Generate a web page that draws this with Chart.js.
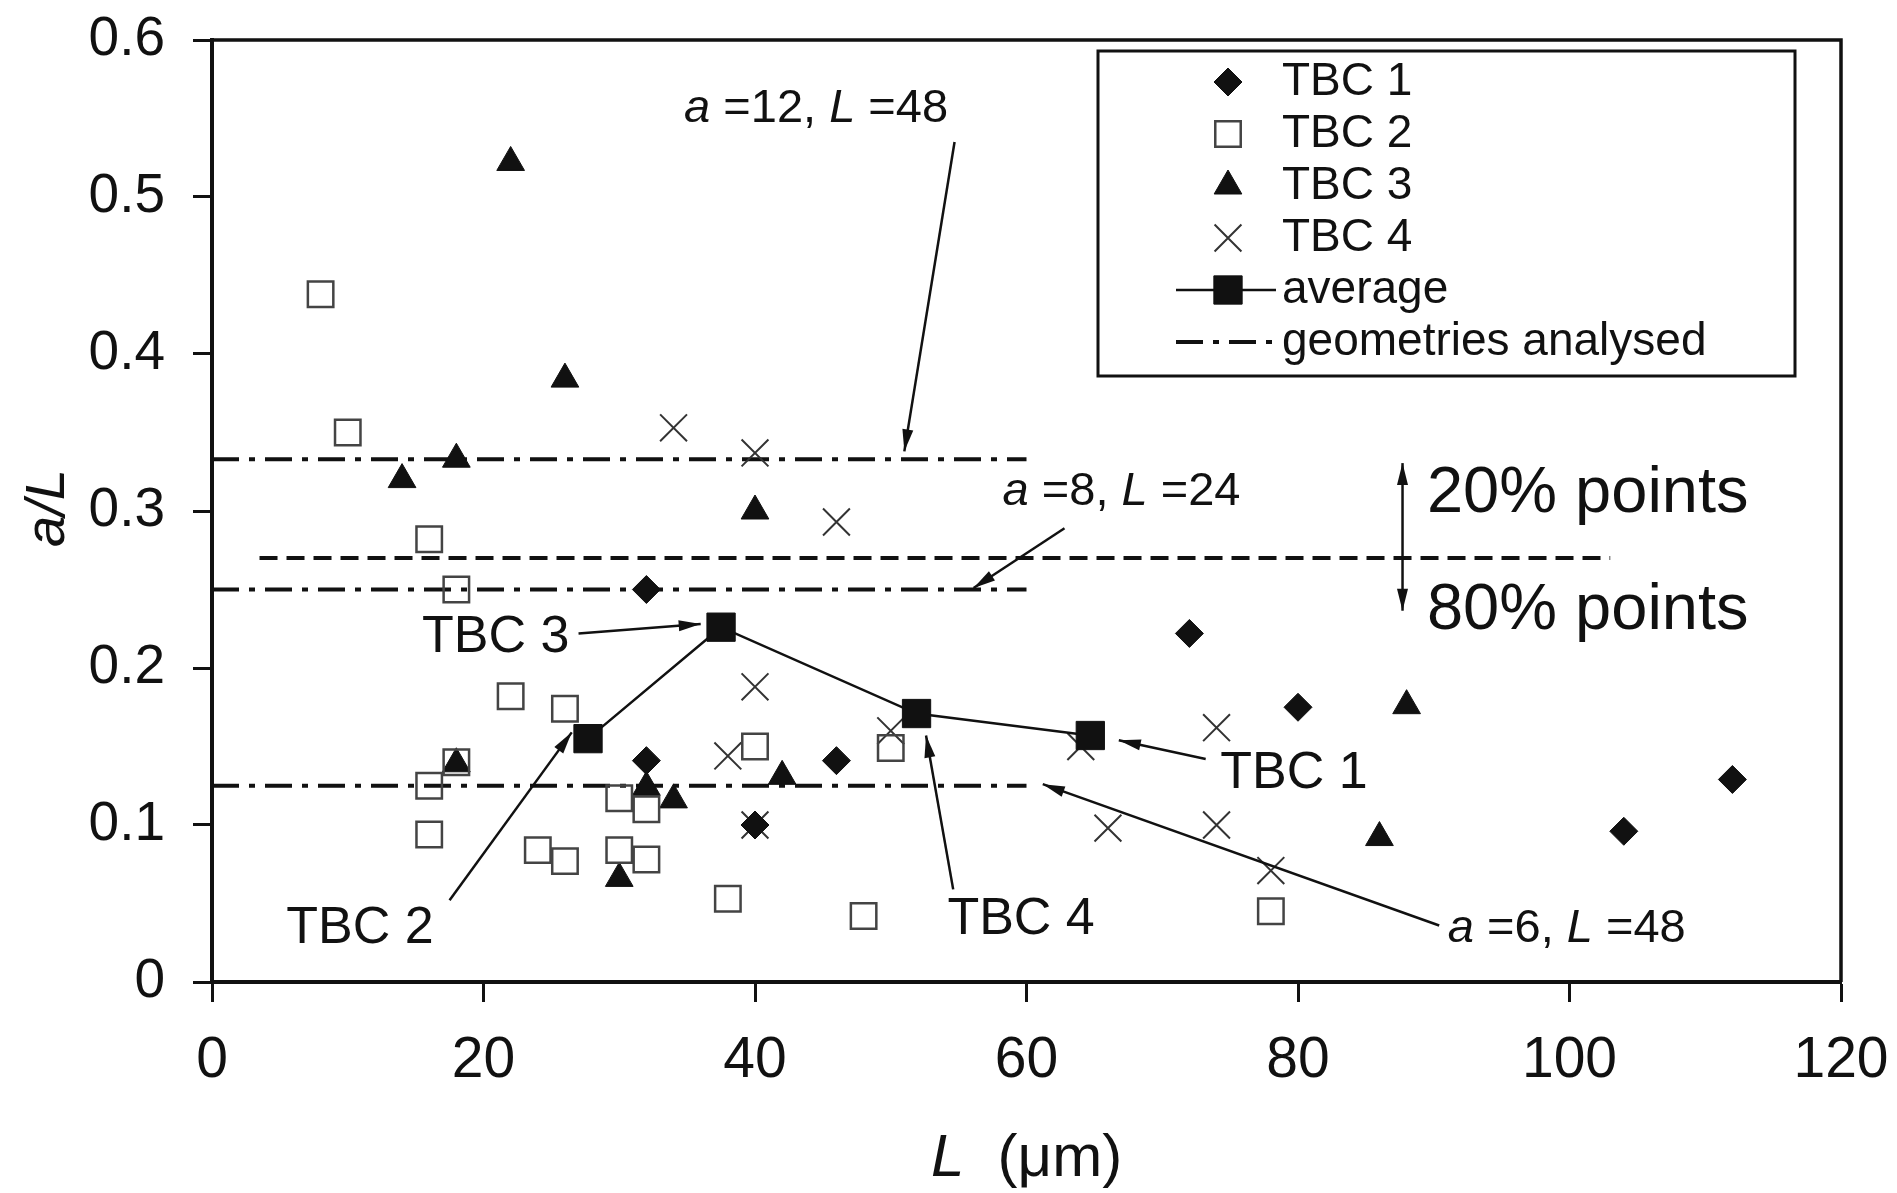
<!DOCTYPE html>
<html>
<head>
<meta charset="utf-8">
<script src="https://cdn.jsdelivr.net/npm/chart.js@4.4.0/dist/chart.umd.min.js"></script>
<style>
  html, body { margin: 0; padding: 0; background: #fff; }
  #wrap { width: 1897px; height: 1193px; position: relative; }
</style>
</head>
<body>
<div id="wrap"><canvas id="crackChart"></canvas></div>
<script>
const FONT = "'Liberation Sans', Arial, Helvetica, sans-serif";
const INK = '#111';

// --- values: L (um) vs a/L ---
const tbc1L = [32, 32, 40, 46, 72, 80, 104, 112];
const tbc1Ratio = [0.250, 0.141, 0.100, 0.141, 0.222, 0.175, 0.096, 0.129];

const tbc2L = [8, 10, 16, 18, 22, 26, 16, 16, 18, 24, 26, 30, 32, 30, 32, 38, 40, 48, 50, 78];
const tbc2Ratio = [0.438, 0.350, 0.282, 0.250, 0.182, 0.174, 0.125, 0.094, 0.140, 0.084,
                   0.077, 0.117, 0.110, 0.084, 0.078, 0.053, 0.150, 0.042, 0.149, 0.045];

const tbc3L = [22, 26, 14, 18, 40, 18, 32, 34, 30, 42, 88, 86];
const tbc3Ratio = [0.522, 0.384, 0.320, 0.333, 0.300, 0.139, 0.124, 0.116, 0.066, 0.131, 0.176, 0.092];

const tbc4L = [34, 40, 46, 40, 38, 40, 50, 64, 66, 74, 74, 78];
const tbc4Ratio = [0.353, 0.337, 0.293, 0.188, 0.144, 0.100, 0.160, 0.150, 0.098, 0.162, 0.100, 0.071];

const averageL = [27.7, 37.5, 51.9, 64.7];
const averageRatio = [0.155, 0.226, 0.171, 0.157];

// analysed geometries (a/L) and the 20% / 80% split line
const geometryRatio = [0.333, 0.25, 0.125];
const geometryLRange = [0, 60];
const splitRatio = 0.27;
const splitLRange = [3.5, 103];

const xTickValues = [0, 20, 40, 60, 80, 100, 120];
const yTickValues = [0, 0.1, 0.2, 0.3, 0.4, 0.5, 0.6];

const toPoints = (xs, ys) => xs.map((x, i) => ({ x: x, y: ys[i] }));

// text notes and arrows, placed in data units
const notes = [
  { parts: [['a', true], [' =12, ', false], ['L', true], [' =48', false]], at: [44.5, 0.556], size: 47 },
  { parts: [['a', true], [' =8, ', false], ['L', true], [' =24', false]], at: [67.0, 0.312], size: 47 },
  { parts: [['TBC 3', false]], at: [20.9, 0.2196], size: 52 },
  { parts: [['TBC 2', false]], at: [10.9, 0.034], size: 52 },
  { parts: [['TBC 4', false]], at: [59.6, 0.040], size: 52 },
  { parts: [['TBC 1', false]], at: [79.7, 0.1325], size: 52 },
  { parts: [['a', true], [' =6, ', false], ['L', true], [' =48', false]], at: [99.8, 0.034], size: 47 },
  { parts: [['20% points', false]], at: [89.5, 0.311], size: 65, align: 'left' },
  { parts: [['80% points', false]], at: [89.5, 0.2365], size: 65, align: 'left' }
];
const arrows = [
  { from: [54.7, 0.535], to: [51.0, 0.338] },
  { from: [62.8, 0.289], to: [56.1, 0.251] },
  { from: [27.0, 0.222], to: [36.0, 0.228] },
  { from: [17.5, 0.052], to: [26.5, 0.159] },
  { from: [54.6, 0.059], to: [52.6, 0.157] },
  { from: [73.2, 0.142], to: [66.8, 0.154] },
  { from: [90.4, 0.036], to: [61.2, 0.126] },
  { from: [87.7, 0.2365], to: [87.7, 0.3305], both: true }
];

const scatterSet = (label, pts, style, radius, fill, stroke, width) => ({
  label: label,
  data: pts,
  showLine: false,
  pointStyle: style,
  pointRadius: radius,
  pointHoverRadius: radius,
  backgroundColor: fill,
  borderColor: stroke,
  borderWidth: width,
  inLegend: true,
  order: 1
});

const refLine = (label, y, range, dash, inLegend) => ({
  label: label,
  data: [{ x: range[0], y: y }, { x: range[1], y: y }],
  showLine: true,
  borderColor: INK,
  borderWidth: 4,
  borderDash: dash,
  pointRadius: 0,
  fill: false,
  inLegend: inLegend,
  order: 3
});

const DASH_DOT = [27, 10, 6, 10];

const datasets = [
  scatterSet('TBC 1', toPoints(tbc1L, tbc1Ratio), 'rectRot', 14, INK, INK, 1),
  scatterSet('TBC 2', toPoints(tbc2L, tbc2Ratio), 'rect', 18, 'rgba(0,0,0,0)', '#444', 2.5),
  scatterSet('TBC 3', toPoints(tbc3L, tbc3Ratio), 'triangle', 16, INK, INK, 1),
  scatterSet('TBC 4', toPoints(tbc4L, tbc4Ratio), 'crossRot', 19, 'rgba(0,0,0,0)', '#333', 2),
  {
    label: 'average',
    data: toPoints(averageL, averageRatio),
    showLine: true,
    borderColor: INK,
    borderWidth: 2.5,
    pointStyle: 'rect',
    pointRadius: 20,
    pointBackgroundColor: INK,
    pointBorderColor: INK,
    pointBorderWidth: 1,
    inLegend: true,
    order: 0
  },
  refLine('geometries analysed', geometryRatio[0], geometryLRange, DASH_DOT, true),
  refLine('geometry 2', geometryRatio[1], geometryLRange, DASH_DOT, false),
  refLine('geometry 3', geometryRatio[2], geometryLRange, DASH_DOT, false),
  refLine('20/80 split', splitRatio, splitLRange, [18, 9], false)
];

function drawRich(ctx, parts, x, y, size, align) {
  const widths = parts.map(p => {
    ctx.font = (p[1] ? 'italic ' : '') + size + 'px ' + FONT;
    return ctx.measureText(p[0]).width;
  });
  const total = widths.reduce((a, b) => a + b, 0);
  let cx = align === 'left' ? x : (align === 'right' ? x - total : x - total / 2);
  ctx.textAlign = 'left';
  ctx.textBaseline = 'middle';
  parts.forEach((p, i) => {
    ctx.font = (p[1] ? 'italic ' : '') + size + 'px ' + FONT;
    ctx.fillText(p[0], cx, y);
    cx += widths[i];
  });
}

function arrowHead(ctx, x1, y1, x2, y2) {
  const ang = Math.atan2(y2 - y1, x2 - x1);
  const len = 22, half = 5.5;
  ctx.beginPath();
  ctx.moveTo(x2, y2);
  ctx.lineTo(x2 - len * Math.cos(ang) + half * Math.sin(ang), y2 - len * Math.sin(ang) - half * Math.cos(ang));
  ctx.lineTo(x2 - len * Math.cos(ang) - half * Math.sin(ang), y2 - len * Math.sin(ang) + half * Math.cos(ang));
  ctx.closePath();
  ctx.fill();
}

const figurePlugin = {
  id: 'figureExtras',
  afterDraw(chart) {
    const ctx = chart.ctx;
    const xs = chart.scales.x, ys = chart.scales.y;
    const area = chart.chartArea;
    ctx.save();
    ctx.strokeStyle = INK;
    ctx.fillStyle = INK;

    // frame top and right
    ctx.lineWidth = 3.5;
    ctx.setLineDash([]);
    ctx.beginPath();
    ctx.moveTo(area.left, area.top);
    ctx.lineTo(area.right, area.top);
    ctx.lineTo(area.right, area.bottom);
    ctx.stroke();

    // arrows
    ctx.lineWidth = 2.5;
    arrows.forEach(a => {
      const x1 = xs.getPixelForValue(a.from[0]), y1 = ys.getPixelForValue(a.from[1]);
      const x2 = xs.getPixelForValue(a.to[0]), y2 = ys.getPixelForValue(a.to[1]);
      ctx.beginPath();
      ctx.moveTo(x1, y1);
      ctx.lineTo(x2, y2);
      ctx.stroke();
      arrowHead(ctx, x1, y1, x2, y2);
      if (a.both) arrowHead(ctx, x2, y2, x1, y1);
    });

    // notes
    notes.forEach(n => {
      drawRich(ctx, n.parts, xs.getPixelForValue(n.at[0]), ys.getPixelForValue(n.at[1]), n.size, n.align || 'center');
    });

    // axis titles
    drawRich(ctx, [['L', true], ['  (\u03bcm)', false]], (area.left + area.right) / 2, 1159, 60, 'center');
    ctx.save();
    ctx.translate(48, ys.getPixelForValue(0.3) - 3);
    ctx.rotate(-Math.PI / 2);
    drawRich(ctx, [['a/L', true]], 0, 0, 56, 'center');
    ctx.restore();

    // legend box
    const boxL = area.right - 743, boxT = area.top + 11;
    ctx.lineWidth = 3;
    ctx.strokeRect(boxL, boxT, 697, 325);
    const rows = chart.data.datasets.filter(d => d.inLegend);
    rows.forEach((d, i) => {
      const ry = boxT + 31 + i * 52;
      const mx = boxL + 130;
      ctx.save();
      if (d.showLine) {
        ctx.lineWidth = d.borderWidth;
        ctx.setLineDash(d.borderDash || []);
        ctx.beginPath();
        ctx.moveTo(boxL + 78, ry);
        ctx.lineTo(boxL + 178, ry);
        ctx.stroke();
        ctx.setLineDash([]);
      }
      if (d.pointRadius > 0) {
        ctx.fillStyle = d.pointBackgroundColor || d.backgroundColor;
        ctx.strokeStyle = d.pointBorderColor || d.borderColor;
        const bw = d.pointBorderWidth !== undefined ? d.pointBorderWidth : d.borderWidth;
        ctx.lineWidth = bw;
        Chart.helpers.drawPoint(ctx, { pointStyle: d.pointStyle, radius: d.pointRadius, rotation: 0, borderWidth: bw }, mx, ry);
      }
      ctx.restore();
      ctx.fillStyle = INK;
      drawRich(ctx, [[d.label, false]], boxL + 184, ry, 46, 'left');
    });
    ctx.restore();
  }
};

new Chart(document.getElementById('crackChart').getContext('2d'), {
  type: 'scatter',
  data: { datasets: datasets },
  options: {
    responsive: true,
    maintainAspectRatio: false,
    animation: false,
    events: [],
    layout: { padding: { left: 0, top: 40, right: 56, bottom: 0 } },
    elements: { line: { tension: 0 } },
    plugins: {
      legend: { display: false },
      tooltip: { enabled: false }
    },
    scales: {
      x: {
        type: 'linear',
        min: 0,
        max: 120,
        afterBuildTicks: scale => { scale.ticks = xTickValues.map(v => ({ value: v })); },
        afterFit: scale => { scale.height = 211; scale.paddingLeft = 0; scale.paddingRight = 0; },
        grid: { drawOnChartArea: false, drawTicks: true, tickLength: 20, tickWidth: 3, tickColor: INK },
        border: { display: true, color: INK, width: 4 },
        ticks: { color: INK, padding: 25, font: { family: FONT, size: 57 }, maxRotation: 0 },
        title: { display: false }
      },
      y: {
        type: 'linear',
        min: 0,
        max: 0.6,
        afterBuildTicks: scale => { scale.ticks = yTickValues.map(v => ({ value: v })); },
        afterFit: scale => { scale.width = 212; scale.paddingTop = 0; scale.paddingBottom = 0; },
        grid: { drawOnChartArea: false, drawTicks: true, tickLength: 19, tickWidth: 3, tickColor: INK },
        border: { display: true, color: INK, width: 4 },
        ticks: { color: INK, padding: 28, font: { family: FONT, size: 55 } },
        title: { display: false }
      }
    }
  },
  plugins: [figurePlugin]
});
</script>
</body>
</html>
